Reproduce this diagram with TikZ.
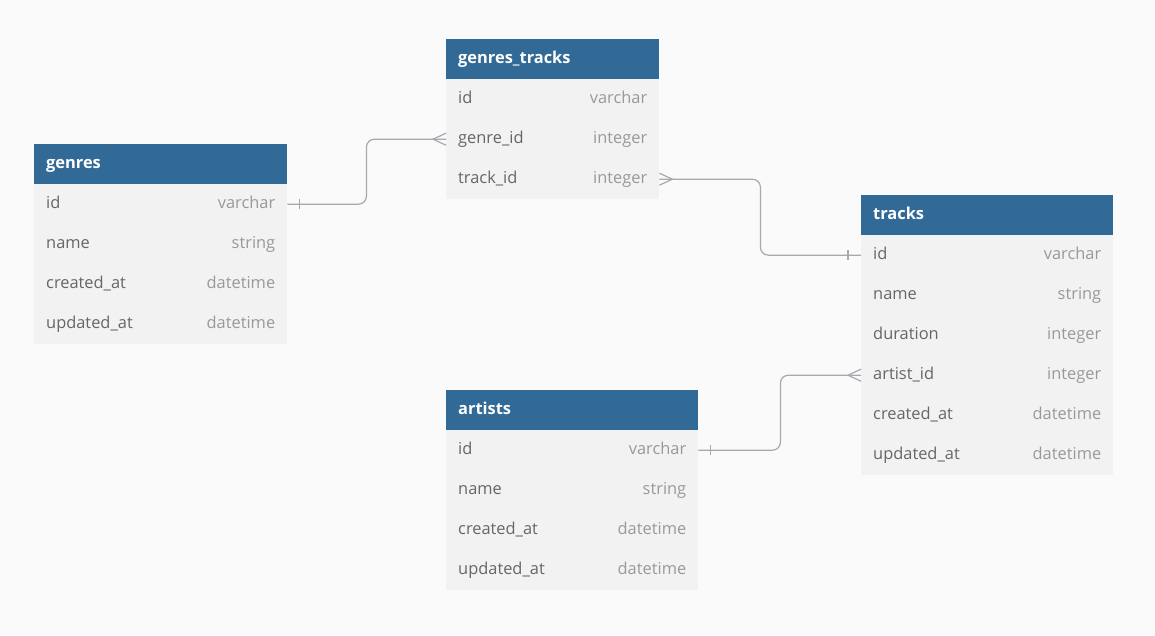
\documentclass[tikz,border=0pt]{standalone}
\usepackage{fontspec}
\setmainfont{Open Sans}
\usepackage{xcolor}
\usepackage{tikz}
\usetikzlibrary{positioning}

\definecolor{headblue}{HTML}{316A97}
\definecolor{rowgrey}{HTML}{F2F2F2}
\definecolor{paper}{HTML}{FAFAFA}
\definecolor{fieldgrey}{HTML}{666666}
\definecolor{typegrey}{HTML}{999999}
\definecolor{linkgrey}{HTML}{A6A9B0}

\begin{document}
\begin{tikzpicture}[x=1pt,y=-1pt,
  every node/.style={inner sep=0pt,font=\fontsize{16.4}{19}\selectfont},
  head/.style={rectangle,fill=headblue,minimum height=40pt,anchor=north west},
  row/.style={rectangle,fill=rowgrey,minimum height=40pt,anchor=north west},
  title/.style={text=white,font=\bfseries\fontsize{16.4}{19}\selectfont,anchor=base west,yshift=-4pt},
  field/.style={text=fieldgrey,anchor=base west,yshift=-4pt},
  type/.style={text=typegrey,anchor=base east,yshift=-4pt},
  link/.style={draw=linkgrey,line width=1.2pt},
  relation/.style={link,rounded corners=8pt}]
\fill[paper] (0,0) rectangle (1155,635);
\useasboundingbox (0,0) rectangle (1155,635);

% genres
\node[head,minimum width=253pt] (genres) at (34,144) {};
\node[title] at ([xshift=12pt]genres.west) {genres};
\foreach \k/\f/\t [count=\i] in {id/id/varchar,name/name/string,created/created\_at/datetime,updated/updated\_at/datetime}{
  \node[row,minimum width=253pt] (genres-\k) at (34,144+40*\i) {};
  \node[field] at ([xshift=12pt]genres-\k.west) {\f};
  \node[type] at ([xshift=-12pt]genres-\k.east) {\t};
}

% genres_tracks
\node[head,minimum width=213pt] (genres-tracks) at (446,39) {};
\node[title] at ([xshift=12pt]genres-tracks.west) {genres\_tracks};
\foreach \k/\f/\t [count=\i] in {id/id/varchar,genre/genre\_id/integer,track/track\_id/integer}{
  \node[row,minimum width=213pt] (genres-tracks-\k) at (446,39+40*\i) {};
  \node[field] at ([xshift=12pt]genres-tracks-\k.west) {\f};
  \node[type] at ([xshift=-12pt]genres-tracks-\k.east) {\t};
}

% tracks
\node[head,minimum width=252pt] (tracks) at (861,195) {};
\node[title] at ([xshift=12pt]tracks.west) {tracks};
\foreach \k/\f/\t [count=\i] in {id/id/varchar,name/name/string,duration/duration/integer,artist/artist\_id/integer,created/created\_at/datetime,updated/updated\_at/datetime}{
  \node[row,minimum width=252pt] (tracks-\k) at (861,195+40*\i) {};
  \node[field] at ([xshift=12pt]tracks-\k.west) {\f};
  \node[type] at ([xshift=-12pt]tracks-\k.east) {\t};
}

% artists
\node[head,minimum width=252pt] (artists) at (446,390) {};
\node[title] at ([xshift=12pt]artists.west) {artists};
\foreach \k/\f/\t [count=\i] in {id/id/varchar,name/name/string,created/created\_at/datetime,updated/updated\_at/datetime}{
  \node[row,minimum width=252pt] (artists-\k) at (446,390+40*\i) {};
  \node[field] at ([xshift=12pt]artists-\k.west) {\f};
  \node[type] at ([xshift=-12pt]artists-\k.east) {\t};
}

% relations
\draw[relation] (genres-id.east) -- ++(79,0) |- (genres-tracks-genre.west);
\draw[link] ([xshift=12pt,yshift=5pt]genres-id.east) -- ([xshift=12pt,yshift=-5pt]genres-id.east);
\draw[link] ([yshift=6pt]genres-tracks-genre.west) -- ([xshift=-13pt]genres-tracks-genre.west) -- ([yshift=-6pt]genres-tracks-genre.west);

\draw[relation] (genres-tracks-track.east) -- ++(101,0) |- (tracks-id.west);
\draw[link] ([yshift=6pt]genres-tracks-track.east) -- ([xshift=13pt]genres-tracks-track.east) -- ([yshift=-6pt]genres-tracks-track.east);
\draw[link] ([xshift=-13pt,yshift=5pt]tracks-id.west) -- ([xshift=-13pt,yshift=-5pt]tracks-id.west);

\draw[relation] (artists-id.east) -- ++(82,0) |- (tracks-artist.west);
\draw[link] ([xshift=12pt,yshift=5pt]artists-id.east) -- ([xshift=12pt,yshift=-5pt]artists-id.east);
\draw[link] ([yshift=6pt]tracks-artist.west) -- ([xshift=-13pt]tracks-artist.west) -- ([yshift=-6pt]tracks-artist.west);
\end{tikzpicture}
\end{document}
